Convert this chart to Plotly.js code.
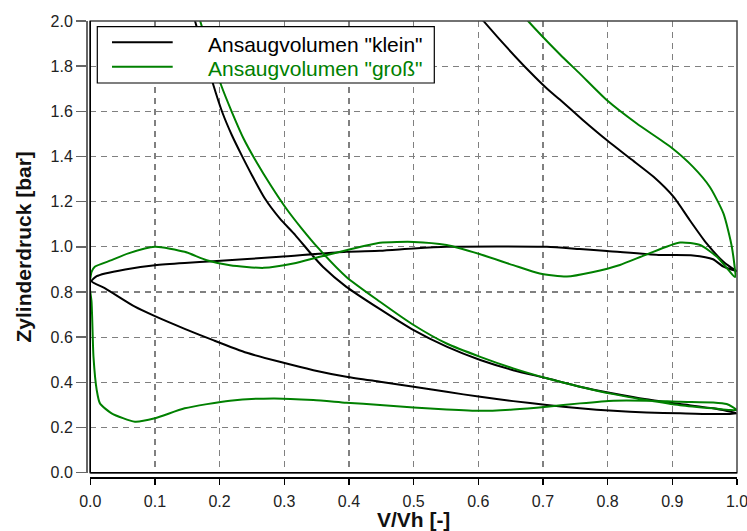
<!DOCTYPE html>
<html>
<head>
<meta charset="utf-8">
<script src="https://cdn.plot.ly/plotly-3.0.1.min.js"></script>
<style>html,body{margin:0;padding:0;background:#fff;}#chart{width:747px;height:531px;}</style>
</head>
<body>
<div id="chart"></div>
<script>
// ---- Data: Ansaugvolumen "klein" (black) ----
var kleinExpX = [0.584, 0.608, 0.634, 0.680, 0.706, 0.726, 0.762, 0.799, 0.835, 0.871, 0.902, 0.927, 0.953, 0.979, 0.997, 1.0];
var kleinExpY = [2.08, 2.0, 1.915, 1.774, 1.701, 1.652, 1.561, 1.472, 1.391, 1.310, 1.221, 1.118, 1.015, 0.934, 0.897, 0.892];
var kleinAusX = [0.979, 0.963, 0.932, 0.881, 0.799, 0.757, 0.706, 0.551, 0.500, 0.448, 0.396, 0.293, 0.190, 0.146, 0.100, 0.054, 0.023, 0.010, 0.002];
var kleinAusY = [0.912, 0.945, 0.962, 0.964, 0.982, 0.990, 1.0, 1.0, 0.993, 0.983, 0.978, 0.956, 0.936, 0.929, 0.919, 0.900, 0.882, 0.870, 0.848];
var kleinAnsX = [0.023, 0.069, 0.100, 0.146, 0.190, 0.242, 0.293, 0.345, 0.396, 0.448, 0.500, 0.551, 0.603, 0.654, 0.706, 0.757, 0.809, 0.860, 0.912, 0.960, 1.0];
var kleinAnsY = [0.816, 0.735, 0.693, 0.637, 0.587, 0.531, 0.491, 0.454, 0.425, 0.403, 0.381, 0.358, 0.336, 0.317, 0.300, 0.285, 0.274, 0.267, 0.263, 0.260, 0.262];
var kleinKompX = [0.963, 0.912, 0.860, 0.809, 0.757, 0.706, 0.654, 0.603, 0.551, 0.500, 0.448, 0.396, 0.360, 0.343, 0.317, 0.293, 0.270, 0.250, 0.234, 0.219, 0.204, 0.190, 0.162, 0.154];
var kleinKompY = [0.285, 0.304, 0.325, 0.351, 0.381, 0.418, 0.454, 0.499, 0.558, 0.631, 0.724, 0.823, 0.911, 0.964, 1.052, 1.126, 1.214, 1.317, 1.406, 1.494, 1.597, 1.720, 2.0, 2.08];

// ---- Data: Ansaugvolumen "groß" (green) ----
var grossExpX = [0.654, 0.677, 0.726, 0.757, 0.799, 0.845, 0.897, 0.932, 0.958, 0.979, 0.992, 0.997];
var grossExpY = [2.08, 2.0, 1.853, 1.767, 1.649, 1.546, 1.443, 1.354, 1.265, 1.148, 1.0, 0.866];
var grossAusX = [0.987, 0.969, 0.943, 0.912, 0.860, 0.819, 0.776, 0.737, 0.695, 0.654, 0.603, 0.551, 0.500, 0.448, 0.396, 0.355, 0.314, 0.268, 0.216, 0.180, 0.146, 0.100, 0.059, 0.033, 0.007, 0.002, -0.001];
var grossAusY = [0.897, 0.956, 1.008, 1.019, 0.966, 0.920, 0.888, 0.869, 0.882, 0.919, 0.967, 1.008, 1.022, 1.018, 0.985, 0.956, 0.926, 0.907, 0.919, 0.941, 0.978, 1.0, 0.971, 0.941, 0.912, 0.889, 0.830];
var grossAnsX = [0.002, 0.005, 0.010, 0.015, 0.033, 0.069, 0.100, 0.146, 0.216, 0.283, 0.345, 0.396, 0.448, 0.500, 0.551, 0.603, 0.654, 0.706, 0.757, 0.809, 0.860, 0.912, 0.963, 0.984, 1.0];
var grossAnsY = [0.757, 0.513, 0.366, 0.307, 0.263, 0.226, 0.241, 0.285, 0.319, 0.329, 0.322, 0.310, 0.300, 0.289, 0.280, 0.274, 0.280, 0.292, 0.307, 0.319, 0.319, 0.314, 0.311, 0.304, 0.277];
var grossKompX = [0.963, 0.912, 0.860, 0.809, 0.757, 0.706, 0.654, 0.603, 0.551, 0.500, 0.448, 0.396, 0.353, 0.327, 0.303, 0.279, 0.257, 0.237, 0.219, 0.202, 0.170, 0.163];
var grossKompY = [0.285, 0.299, 0.322, 0.348, 0.381, 0.418, 0.462, 0.513, 0.572, 0.654, 0.757, 0.867, 0.993, 1.081, 1.170, 1.273, 1.376, 1.480, 1.597, 1.719, 2.0, 2.08];

var seriesNames = ['Ansaugvolumen "klein"', 'Ansaugvolumen "groß"'];
var seriesColors = ['#000000', '#008000'];
var xTickVals = [0, 0.1, 0.2, 0.3, 0.4, 0.5, 0.6, 0.7, 0.8, 0.9, 1.0];
var xTickText = ['0.0', '0.1', '0.2', '0.3', '0.4', '0.5', '0.6', '0.7', '0.8', '0.9', '1.0'];
var yTickVals = [0, 0.2, 0.4, 0.6, 0.8, 1.0, 1.2, 1.4, 1.6, 1.8, 2.0];
var yTickText = ['0.0', '0.2', '0.4', '0.6', '0.8', '1.0', '1.2', '1.4', '1.6', '1.8', '2.0'];
var xTitle = 'V/Vh [-]';
var yTitle = 'Zylinderdruck [bar]';

var FONT = 'Liberation Sans, Arial, sans-serif';

var traces = [
  {
    x: [].concat(kleinExpX, kleinAusX, kleinAnsX, kleinKompX),
    y: [].concat(kleinExpY, kleinAusY, kleinAnsY, kleinKompY),
    name: seriesNames[0], mode: 'lines',
    line: {color: seriesColors[0], width: 2, shape: 'spline', smoothing: 0.6},
    showlegend: false, hoverinfo: 'skip'
  },
  {
    x: [].concat(grossExpX, grossAusX, grossAnsX, grossKompX),
    y: [].concat(grossExpY, grossAusY, grossAnsY, grossKompY),
    name: seriesNames[1], mode: 'lines',
    line: {color: seriesColors[1], width: 2, shape: 'spline', smoothing: 0.6},
    showlegend: false, hoverinfo: 'skip'
  }
];

function px2x(px) { return (px - 87) / 650; }
function py2y(py) { return (477 - py) / 456; }

var layout = {
  width: 747, height: 531,
  margin: {l: 87, r: 10, t: 21, b: 54},
  paper_bgcolor: '#ffffff', plot_bgcolor: '#ffffff',
  showlegend: false,
  font: {family: FONT, size: 16, color: '#222'},
  xaxis: {
    domain: [0.005, 1], anchor: 'free', position: 0,
    range: [0, 1], tickmode: 'array', tickvals: xTickVals, ticktext: xTickText,
    showgrid: true, gridcolor: '#808080', gridwidth: 1.2, griddash: '6px,5px',
    zeroline: false, showline: true, linecolor: '#000', linewidth: 1.5,
    ticks: 'outside', ticklen: 6, tickwidth: 1.5, tickcolor: '#000',
    ticklabelstandoff: 3, ticklabeloverflow: 'allow',
    tickfont: {family: FONT, size: 16, color: '#222'},
    title: {text: '<b>' + xTitle + '</b>', font: {family: FONT, size: 21, color: '#111'}, standoff: 4}
  },
  yaxis: {
    domain: [0.0094, 1], anchor: 'free', position: 0,
    range: [0, 2.0], tickmode: 'array', tickvals: yTickVals, ticktext: yTickText,
    showgrid: true, gridcolor: '#808080', gridwidth: 1.2, griddash: '6px,5px',
    zeroline: false, showline: true, linecolor: '#666', linewidth: 2,
    ticks: 'outside', ticklen: 10, tickwidth: 1.5, tickcolor: '#666',
    ticklabeloverflow: 'allow',
    tickfont: {family: FONT, size: 16, color: '#222'},
    title: {text: '<b>' + yTitle + '</b>', font: {family: FONT, size: 21, color: '#111'}, standoff: 12}
  },
  shapes: [
    {type: 'rect', xref: 'x domain', yref: 'y domain', x0: 0, x1: 1, y0: 0, y1: 1,
     line: {color: '#444', width: 1.5}, layer: 'above'},
    {type: 'line', xref: 'x domain', yref: 'y domain', x0: 0, x1: 0, y0: 0, y1: 1,
     line: {color: '#000', width: 1.5}, layer: 'above'},
    {type: 'line', xref: 'x domain', yref: 'y domain', x0: 0, x1: 1, y0: 0, y1: 0,
     line: {color: '#000', width: 1.5}, layer: 'above'},
    // legend box
    {type: 'rect', xref: 'paper', yref: 'paper', x0: px2x(97.3), x1: px2x(434.3), y0: py2y(83), y1: py2y(26.7),
     fillcolor: '#ffffff', line: {color: '#000', width: 1.2}, layer: 'above'},
    {type: 'line', xref: 'paper', yref: 'paper', x0: px2x(112), x1: px2x(172.7), y0: py2y(42.3), y1: py2y(42.3),
     line: {color: seriesColors[0], width: 2}, layer: 'above'},
    {type: 'line', xref: 'paper', yref: 'paper', x0: px2x(112), x1: px2x(172.7), y0: py2y(66.7), y1: py2y(66.7),
     line: {color: seriesColors[1], width: 2}, layer: 'above'}
  ],
  annotations: [
    {xref: 'paper', yref: 'paper', x: px2x(205.5), y: py2y(44), xanchor: 'left', yanchor: 'middle',
     text: seriesNames[0], showarrow: false, font: {family: FONT, size: 21, color: seriesColors[0]}},
    {xref: 'paper', yref: 'paper', x: px2x(205.5), y: py2y(68.5), xanchor: 'left', yanchor: 'middle',
     text: seriesNames[1], showarrow: false, font: {family: FONT, size: 21, color: seriesColors[1]}}
  ]
};

Plotly.newPlot('chart', traces, layout, {displayModeBar: false, staticPlot: true});
</script>
</body>
</html>
